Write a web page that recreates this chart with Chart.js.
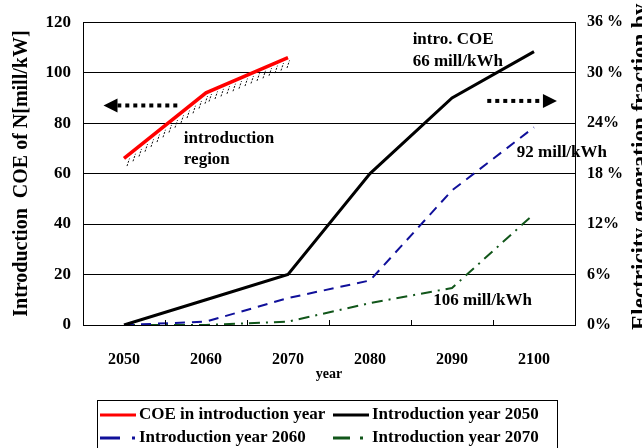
<!DOCTYPE html>
<html>
<head>
<meta charset="utf-8">
<script src="https://cdn.jsdelivr.net/npm/chart.js@4.4.1/dist/chart.umd.min.js"></script>
<style>
  html, body { margin: 0; padding: 0; background: #fff; overflow: hidden; }
  #wrap { width: 642px; height: 448px; position: relative; }
</style>
</head>
<body>
<div id="wrap"><canvas id="coeChart"></canvas></div>
<script>
const years = ['2050', '2060', '2070', '2080', '2090', '2100'];
const coeIntro = [66, 92, 106, null, null, null];
const frac2050 = [0, 3, 6, 18, 27, 32.5];
const frac2060 = [0, 0.4, 3.2, 5.3, 16, 23.5];
const frac2070 = [0, 0, 0.4, 2.6, 4.4, 13.2];
const pctLabels = ['0%', '6%', '12%', '18 %', '24%', '30 %', '36 %'];

const SERIF = '"Liberation Serif", "Times New Roman", serif';

// text notes placed in data space: x = category index, y = COE value
const notes = [
  { text: 'intro. COE', x: 3.52, y: 113 },
  { text: '66 mill/kWh', x: 3.52, y: 104.5 },
  { text: '92 mill/kWh', x: 4.79, y: 68.5 },
  { text: '106 mill/kWh', x: 3.77, y: 9.7 },
  { text: 'introduction', x: 0.73, y: 73.8 },
  { text: 'region', x: 0.73, y: 65.5 }
];

// dotted arrows pointing at the axis each group belongs to
const arrows = [
  { from: 0.65, to: -0.25, y: 87 },
  { from: 4.43, to: 5.28, y: 88.8 }
];

function drawArrow(ctx, x0, x1, y) {
  const dir = Math.sign(x1 - x0);
  const headLen = 14;
  ctx.save();
  ctx.strokeStyle = '#000';
  ctx.lineWidth = 4;
  ctx.setLineDash([4, 4]);
  ctx.beginPath();
  ctx.moveTo(x0, y);
  ctx.lineTo(x1 - dir * headLen, y);
  ctx.stroke();
  ctx.setLineDash([]);
  ctx.fillStyle = '#000';
  ctx.beginPath();
  ctx.moveTo(x1, y);
  ctx.lineTo(x1 - dir * headLen, y - 7);
  ctx.lineTo(x1 - dir * headLen, y + 7);
  ctx.closePath();
  ctx.fill();
  ctx.restore();
}

const overlay = {
  id: 'overlay',
  afterDatasetsDraw(chart) {
    // hatching under the COE curve
    const ctx = chart.ctx;
    const pts = chart.getDatasetMeta(0).data.filter(p => !p.skip);
    ctx.save();
    ctx.strokeStyle = '#111';
    ctx.lineWidth = 1;
    ctx.setLineDash([2, 1.5]);
    for (let i = 0; i < pts.length - 1; i++) {
      const a = pts[i], b = pts[i + 1];
      for (let x = a.x + 3; x < b.x; x += 6) {
        const y = a.y + (b.y - a.y) * (x - a.x) / (b.x - a.x);
        ctx.beginPath();
        ctx.moveTo(x, y + 10);
        ctx.lineTo(x + 2.5, y + 2.5);
        ctx.stroke();
      }
    }
    ctx.restore();
  },
  afterDraw(chart) {
    const ctx = chart.ctx;
    const xs = chart.scales.x;
    const ys = chart.scales.y;
    const area = chart.chartArea;

    // inward tick marks on the year axis
    ctx.save();
    ctx.strokeStyle = '#000';
    ctx.lineWidth = 1;
    for (let i = 1; i < years.length; i++) {
      const x = Math.round(xs.getPixelForValue(i - 0.5)) + 0.5;
      ctx.beginPath();
      ctx.moveTo(x, area.bottom);
      ctx.lineTo(x, area.bottom - 5);
      ctx.stroke();
    }
    ctx.restore();

    ctx.save();
    ctx.fillStyle = '#000';
    ctx.font = 'bold 17px ' + SERIF;
    ctx.textBaseline = 'middle';
    ctx.textAlign = 'left';
    notes.forEach(n => ctx.fillText(n.text, xs.getPixelForValue(n.x), ys.getPixelForValue(n.y)));
    ctx.restore();

    arrows.forEach(a => drawArrow(ctx, xs.getPixelForValue(a.from), xs.getPixelForValue(a.to), ys.getPixelForValue(a.y)));

    // right axis title, runs off the edge
    ctx.save();
    ctx.fillStyle = '#000';
    ctx.font = 'bold 23px ' + SERIF;
    ctx.textAlign = 'left';
    ctx.textBaseline = 'alphabetic';
    ctx.translate(647, 330);
    ctx.rotate(-Math.PI / 2);
    ctx.fillText('Electricity generation fraction by fusion', 0, 0);
    ctx.restore();

    // boxed legend, two columns
    const slots = [[100, 415], [333, 415], [100, 438], [333, 438]];
    ctx.save();
    ctx.strokeStyle = '#000';
    ctx.lineWidth = 1;
    ctx.strokeRect(97.5, 400.5, 460, 60);
    ctx.font = 'bold 17px ' + SERIF;
    ctx.textBaseline = 'middle';
    ctx.textAlign = 'left';
    chart.data.datasets.forEach((ds, i) => {
      const [x, y] = slots[i];
      ctx.strokeStyle = ds.borderColor;
      ctx.lineWidth = 3;
      ctx.setLineDash(ds.legendDash || []);
      ctx.beginPath();
      ctx.moveTo(x, y);
      ctx.lineTo(x + 36, y);
      ctx.stroke();
      ctx.setLineDash([]);
      ctx.fillStyle = '#000';
      ctx.fillText(ds.label, x + 39, y);
    });
    ctx.restore();
  }
};

new Chart(document.getElementById('coeChart'), {
  type: 'line',
  data: {
    labels: years,
    datasets: [
      { label: 'COE in introduction year', data: coeIntro, yAxisID: 'y', borderColor: '#ff0000', borderWidth: 3.5 },
      { label: 'Introduction year 2050', data: frac2050, yAxisID: 'y1', borderColor: '#000000', borderWidth: 3 },
      { label: 'Introduction year 2060', data: frac2060, yAxisID: 'y1', borderColor: '#10109a', borderWidth: 2, borderDash: [10, 7], legendDash: [20, 12, 3, 10] },
      { label: 'Introduction year 2070', data: frac2070, yAxisID: 'y1', borderColor: '#11561a', borderWidth: 2, borderDash: [11, 6, 2, 6], legendDash: [17, 10, 3, 10] }
    ]
  },
  options: {
    responsive: true,
    maintainAspectRatio: false,
    animation: false,
    spanGaps: false,
    layout: { padding: { top: 17, bottom: 58, left: 0, right: 0 } },
    elements: { point: { radius: 0 }, line: { tension: 0 } },
    plugins: { legend: { display: false }, tooltip: { enabled: false } },
    scales: {
      x: {
        offset: true,
        grid: { display: false },
        border: { display: true, color: '#000', width: 1 },
        ticks: { color: '#000', font: { family: SERIF, size: 16, weight: 'bold' }, padding: 17 },
        title: { display: true, text: 'year', color: '#000', font: { family: SERIF, size: 14, weight: 'bold' }, padding: { top: 0, bottom: 7 } },
        afterFit: s => { s.height = 65; }
      },
      y: {
        min: 0, max: 120,
        ticks: { stepSize: 20, color: '#000', font: { family: SERIF, size: 17, weight: 'bold' }, padding: 12 },
        grid: { color: '#000', lineWidth: 1, drawTicks: false },
        border: { display: true, color: '#000', width: 1 },
        title: { display: true, text: 'Introduction  COE of N[mill/kW]', color: '#000', font: { family: SERIF, size: 20, weight: 'bold' }, padding: { top: 10, bottom: 0 } },
        afterFit: s => { s.width = 83; }
      },
      y1: {
        position: 'right',
        min: 0, max: 36,
        ticks: { stepSize: 6, color: '#000', font: { family: SERIF, size: 16, weight: 'bold' }, padding: 12, callback: (v, i) => pctLabels[i] },
        grid: { drawOnChartArea: false, drawTicks: false },
        border: { display: true, color: '#000', width: 1 },
        afterFit: s => { s.width = 67; }
      }
    }
  },
  plugins: [overlay]
});
</script>
</body>
</html>
